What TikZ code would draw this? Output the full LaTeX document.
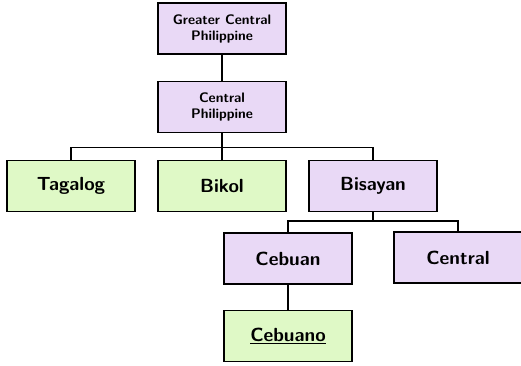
\documentclass[tikz,border=0pt]{standalone}
\usepackage{tikz}
\definecolor{grouppurple}{HTML}{E9D9F6}
\definecolor{langgreen}{HTML}{DFF9C6}
\tikzset{
    box/.style={draw, line width=1.7pt, minimum width=128pt, minimum height=51pt, inner sep=2pt, align=center, font=\sffamily\bfseries\fontsize{19}{22}\selectfont},
    smallbox/.style={box, font=\sffamily\bfseries\fontsize{13.8}{16}\selectfont},
    group/.style={fill=grouppurple},
    lang/.style={fill=langgreen},
}
\begin{document}
\begin{tikzpicture}[x=1pt,y=-1pt,line width=1.5pt]
    \useasboundingbox (0,0) rectangle (521,365);
    \node[smallbox,group] (gcp) at (222,28.5) {Greater Central\\Philippine};
    \node[smallbox,group] (cp) at (222,107) {Central\\Philippine};
    \node[box,lang] (tag) at (71,186) {Tagalog};
    \node[box,lang] (bik) at (222,186) {Bikol};
    \node[box,group] (bis) at (373,186) {Bisayan};
    \node[box,group] (ceb) at (288,258.5) {Cebuan};
    \node[box,group] (cen) at (458,257.5) {Central};
    \node[box,lang] (cebo) at (288,336) {\underline{Cebuano}};
\draw (gcp) -- (cp);
\draw (cp) -- (bik);
\draw (tag.north) -- ++(0,-12) -| (bis.north);
\draw (bis) -- ++(0,36);
\draw (ceb.north) -- ++(0,-11) -| (cen.north);
\draw (ceb) -- (cebo);
\end{tikzpicture}
\end{document}
